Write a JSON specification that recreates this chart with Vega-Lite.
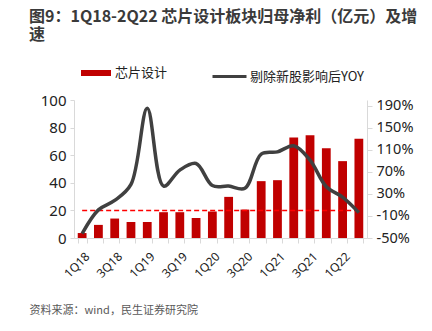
{
  "$schema": "https://vega.github.io/schema/vega-lite/v6.json",
  "width": 293,
  "height": 138,
  "autosize": "none",
  "padding": {"left": 74, "top": 100, "right": 65, "bottom": 93},
  "background": "white",
  "title": {
    "text": ["图9：1Q18-2Q22 芯片设计板块归母净利（亿元）及增", "速"],
    "anchor": "start",
    "frame": "group",
    "dx": -45,
    "offset": 15,
    "font": "Noto Sans CJK SC",
    "fontSize": 16,
    "fontWeight": "bold",
    "color": "#3a3a3a",
    "lineHeight": 18
  },
  "config": {
    "view": {"stroke": null},
    "axis": {
      "grid": false,
      "domainColor": "#d9d9d9",
      "tickColor": "#d9d9d9",
      "labelFont": "Noto Sans",
      "labelColor": "#222222",
      "labelOverlap": false,
      "titleFont": "Noto Sans CJK SC"
    },
    "legend": {"labelFont": "Noto Sans CJK SC", "labelFontSize": 13, "labelColor": "#222222"}
  },
  "data": {
    "values": [
      {"q": "1Q18", "profit": 3.6, "yoy": -42},
      {"q": "2Q18", "profit": 9.5, "yoy": 1},
      {"q": "3Q18", "profit": 14.1, "yoy": 18},
      {"q": "4Q18", "profit": 11.6, "yoy": 47},
      {"q": "1Q19", "profit": 11.6, "yoy": 185},
      {"q": "2Q19", "profit": 18.7, "yoy": 44},
      {"q": "3Q19", "profit": 18.7, "yoy": 73},
      {"q": "4Q19", "profit": 14.5, "yoy": 85},
      {"q": "1Q20", "profit": 19.2, "yoy": 45},
      {"q": "2Q20", "profit": 29.8, "yoy": 44},
      {"q": "3Q20", "profit": 20.6, "yoy": 40},
      {"q": "4Q20", "profit": 41.2, "yoy": 102},
      {"q": "1Q21", "profit": 41.9, "yoy": 106},
      {"q": "2Q21", "profit": 72.9, "yoy": 117},
      {"q": "3Q21", "profit": 74.4, "yoy": 91},
      {"q": "4Q21", "profit": 65.1, "yoy": 43},
      {"q": "1Q22", "profit": 55.7, "yoy": 24},
      {"q": "2Q22", "profit": 71.9, "yoy": -4}
    ]
  },
  "encoding": {
    "x": {
      "field": "q",
      "type": "ordinal",
      "sort": null,
      "scale": {"paddingInner": 0.46, "paddingOuter": 0.23},
      "axis": {
        "title": "资料来源：wind，民生证券研究院",
        "titleFont": "Noto Sans CJK SC",
        "titleFontSize": 11,
        "titleFontWeight": "normal",
        "titleColor": "#595959",
        "titleAnchor": "start",
        "titleAlign": "left",
        "titleBaseline": "middle",
        "titleX": -45,
        "titleY": 72,
        "labelAngle": -45,
        "labelAlign": "right",
        "labelBaseline": "middle",
        "labelFontSize": 12,
        "labelPadding": 11,
        "labelOffset": 5,
        "labelOverlap": false,
        "tickBand": "extent",
        "tickSize": 5,
        "labelExpr": "(substring(datum.value,0,1) == '1' || substring(datum.value,0,1) == '3') ? datum.value : ''"
      }
    }
  },
  "layer": [
    {
      "mark": {"type": "bar"},
      "encoding": {
        "y": {
          "field": "profit",
          "type": "quantitative",
          "scale": {"domain": [0, 100], "nice": false},
          "axis": {"title": null, "values": [0, 20, 40, 60, 80, 100], "labelFontSize": 15, "tickSize": 4, "labelPadding": 4, "labelOverlap": false}
        },
        "fill": {
          "datum": "芯片设计",
          "scale": {"range": ["#c00000"]},
          "legend": {
            "title": null,
            "orient": "none",
            "legendX": 7,
            "legendY": -42,
            "symbolType": "M-1,-0.2H1V0.2H-1Z",
            "symbolSize": 900,
            "symbolStrokeWidth": 0,
            "labelOffset": 4
          }
        }
      }
    },
    {
      "layer": [
        {
          "mark": {"type": "line", "color": "#ff0000", "strokeWidth": 1.5, "strokeDash": [5, 3]},
          "encoding": {
            "y": {
              "datum": 0,
              "type": "quantitative",
              "scale": {"domain": [-50, 200], "nice": false},
              "axis": {
                "title": null,
                "orient": "right",
                "values": [-50, -10, 30, 70, 110, 150, 190],
                "labelExpr": "datum.value + '%'",
                "labelFontSize": 14.5,
                "labelOverlap": false,
                "labelFlush": false,
                "tickSize": 5,
                "labelPadding": 4
              }
            }
          }
        },
        {
          "mark": {"type": "line", "strokeWidth": 3.5, "interpolate": "catmull-rom"},
          "encoding": {
            "y": {
              "field": "yoy",
              "type": "quantitative",
              "scale": {"domain": [-50, 200], "nice": false},
              "axis": {
                "title": null,
                "orient": "right",
                "values": [-50, -10, 30, 70, 110, 150, 190],
                "labelExpr": "datum.value + '%'",
                "labelFontSize": 14.5,
                "labelOverlap": false,
                "labelFlush": false,
                "tickSize": 5,
                "labelPadding": 4
              }
            },
            "stroke": {
              "datum": "剔除新股影响后YOY",
              "scale": {"range": ["#404040"]},
              "legend": {
                "title": null,
                "orient": "none",
                "legendX": 137,
                "legendY": -42,
                "symbolType": "stroke",
                "symbolSize": 1156,
                "symbolStrokeWidth": 3,
                "labelOffset": 2
              }
            }
          }
        }
      ]
    }
  ],
  "resolve": {"scale": {"y": "independent", "fill": "independent", "stroke": "independent"}}
}
